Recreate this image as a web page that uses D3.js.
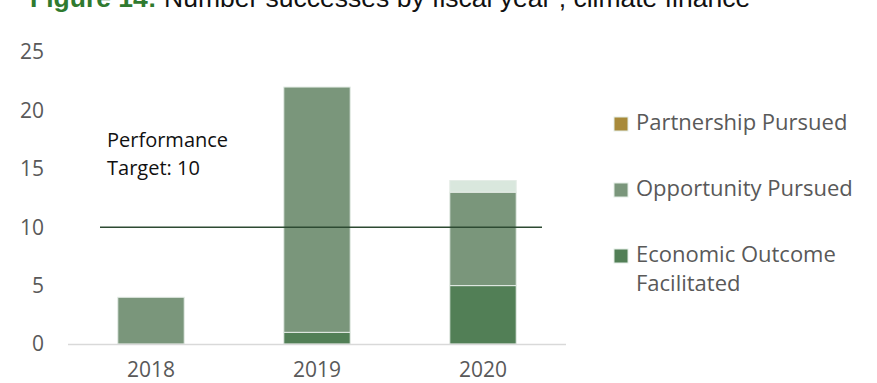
<!DOCTYPE html>
<html>
<head>
<meta charset="utf-8">
<script src="https://cdn.jsdelivr.net/npm/d3@7"></script>
<style>
  body { margin: 0; background: #fff; }
  svg { display: block; }
</style>
</head>
<body>
<div id="chart"></div>
<script>
const years = ["2018", "2019", "2020"];
const economicOutcome = [0, 1, 5];
const opportunityPursued = [4, 21, 8];
const partnershipPursued = [0, 0, 1];
const yTicks = [0, 5, 10, 15, 20, 25];
const targetValue = 10;

const width = 877;
const height = 383;

const margin = { top: 52, left: 68, bottom: 39, right: 311 };
const plotWidth = width - margin.left - margin.right;
const plotHeight = height - margin.top - margin.bottom;

const barColors = ["#527f56", "#7a967b", "#d9e7dd"];
const legendColors = ["#527f56", "#7a967b", "#a88a3a"];

const rows = years.map((y, i) => ({
  year: y,
  economic: economicOutcome[i],
  opportunity: opportunityPursued[i],
  partnership: partnershipPursued[i]
}));

const stack = d3.stack().keys(["economic", "opportunity", "partnership"]);
const layers = stack(rows);

const xScale = d3.scaleBand()
  .domain(years)
  .range([0, plotWidth])
  .paddingInner(0.6)
  .paddingOuter(0.3);

const yScale = d3.scaleLinear()
  .domain([0, 25])
  .range([plotHeight, 0]);

const svg = d3.select("#chart")
  .append("svg")
  .attr("width", width)
  .attr("height", height);

// title, top half is cut off in the original
const title = svg.append("text")
  .attr("x", 30)
  .attr("y", 6.5)
  .style("font-family", "'Liberation Sans', Arial, sans-serif")
  .style("font-size", "26.5px");
title.append("tspan")
  .attr("fill", "#2f7a2f")
  .style("font-weight", "bold")
  .text("Figure 14:");
title.append("tspan")
  .attr("fill", "#111")
  .text(" Number successes by fiscal year , climate finance");

const plotG = svg.append("g")
  .attr("transform", `translate(${margin.left},${margin.top})`);

// y tick labels (no gridlines)
plotG.selectAll(".ylab")
  .data(yTicks)
  .enter()
  .append("text")
  .attr("class", "ylab")
  .attr("x", -24)
  .attr("y", d => yScale(d))
  .attr("dy", "0.35em")
  .attr("text-anchor", "end")
  .attr("fill", "#595959")
  .style("font-family", "'Open Sans', sans-serif")
  .style("font-size", "21px")
  .text(d => d);

// bars
layers.forEach((layer, li) => {
  plotG.selectAll(".bar" + li)
    .data(layer.filter(d => d[1] - d[0] > 0))
    .enter()
    .append("rect")
    .attr("x", d => xScale(d.data.year))
    .attr("y", d => yScale(d[1]))
    .attr("width", xScale.bandwidth())
    .attr("height", d => yScale(d[0]) - yScale(d[1]))
    .attr("fill", barColors[li])
    .attr("stroke", "#e4ece6")
    .attr("stroke-width", 1);
});

// x axis line
plotG.append("line")
  .attr("x1", 0)
  .attr("x2", plotWidth)
  .attr("y1", yScale(0) + 0.5)
  .attr("y2", yScale(0) + 0.5)
  .attr("stroke", "#d9d9d9")
  .attr("stroke-width", 1.5);

plotG.selectAll(".xlab")
  .data(years)
  .enter()
  .append("text")
  .attr("class", "xlab")
  .attr("x", d => xScale(d) + xScale.bandwidth() / 2)
  .attr("y", plotHeight + 33)
  .attr("text-anchor", "middle")
  .attr("fill", "#595959")
  .style("font-family", "'Open Sans', sans-serif")
  .style("font-size", "21px")
  .text(d => d);

// performance target line
plotG.append("line")
  .attr("x1", 32)
  .attr("x2", 474)
  .attr("y1", yScale(targetValue))
  .attr("y2", yScale(targetValue))
  .attr("stroke", "#2d4a32")
  .attr("stroke-width", 1.6);

const note = plotG.append("text")
  .attr("fill", "#111")
  .style("font-family", "'Open Sans', sans-serif")
  .style("font-size", "20px");
note.append("tspan").attr("x", 39).attr("y", yScale(16.85)).text("Performance");
note.append("tspan").attr("x", 39).attr("y", yScale(14.45)).text("Target: 10");

// legend
const legendItems = [
  { name: ["Partnership Pursued"], color: legendColors[2], y: 124 },
  { name: ["Opportunity Pursued"], color: legendColors[1], y: 190 },
  { name: ["Economic Outcome", "Facilitated"], color: legendColors[0], y: 256 }
];

const legendG = svg.append("g");
const item = legendG.selectAll("g")
  .data(legendItems)
  .enter()
  .append("g")
  .attr("transform", d => `translate(614,${d.y})`);

item.append("rect")
  .attr("x", 0)
  .attr("y", -7)
  .attr("width", 14)
  .attr("height", 14)
  .attr("fill", d => d.color)
  .attr("stroke", "#e3ede6")
  .attr("stroke-width", 1);

item.append("text")
  .attr("fill", "#595959")
  .style("font-family", "'Open Sans', sans-serif")
  .style("font-size", "22px")
  .selectAll("tspan")
  .data(d => d.name)
  .enter()
  .append("tspan")
  .attr("x", 22)
  .attr("y", (d, i) => i * 29)
  .attr("dy", "0.25em")
  .text(d => d);
</script>
</body>
</html>
